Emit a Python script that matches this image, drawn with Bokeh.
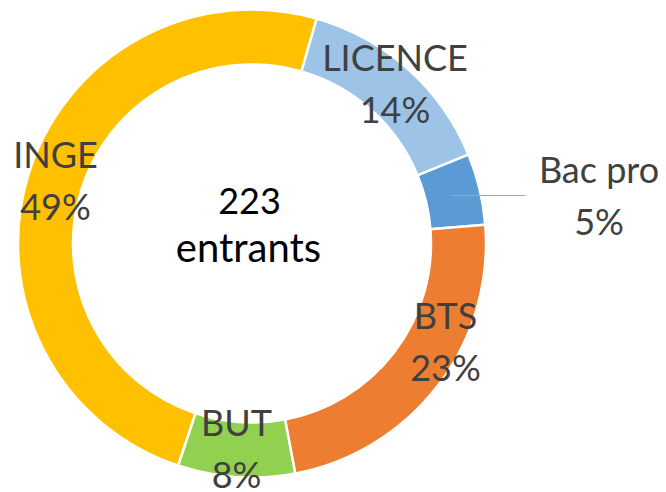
from math import radians
from bokeh.plotting import figure
from bokeh.models import Range1d, ColumnDataSource
from bokeh.core.properties import value
from bokeh.embed import file_html
from bokeh.resources import INLINE

# ---- data ----
categories = ["LICENCE", "Bac pro", "BTS", "BUT", "INGE"]
counts = [32, 11, 52, 18, 110]
colors = ["#9DC3E6", "#5B9BD5", "#ED7D31", "#92D050", "#FFC000"]
center_number = "223"
center_word = "entrants"

total = sum(counts)
percent_labels = [f"{round(100 * c / total)}%" for c in counts]

# ---- layout ----
W, H = 666, 492
TXT_SHIFT = 15  # compensates renderer baseline offset
def dx(sx):
    return sx
def dy(sy):
    return H - sy

cx, cy = dx(251.5), dy(243)
R_OUT, R_IN = 234, 179
first_angle = 16.0  # degrees clockwise from 12 o'clock

starts, ends = [], []
acc = first_angle
for c in counts:
    a0 = acc
    a1 = acc + 360.0 * c / total
    starts.append(radians(90 - a0))
    ends.append(radians(90 - a1))
    acc = a1

src = ColumnDataSource(dict(cat=categories, n=counts, color=colors,
                            start=starts, end=ends,
                            x=[cx] * len(counts), y=[cy] * len(counts)))

p = figure(width=W, height=H, x_range=Range1d(0, W), y_range=Range1d(0, H),
           output_backend="svg", toolbar_location=None, min_border=0,
           background_fill_color="white", border_fill_color="white")
p.outline_line_color = None
p.axis.visible = False
p.grid.visible = False

p.annular_wedge(x="x", y="y", inner_radius=R_IN, outer_radius=R_OUT,
                inner_radius_units="screen", outer_radius_units="screen",
                start_angle="start", end_angle="end", direction="clock",
                fill_color="color", line_color="white", line_width=2.5,
                source=src)

# leader line for Bac pro
p.segment(x0=[dx(451.5)], y0=[dy(195)], x1=[dx(525)], y1=[dy(195)],
          line_color="#A6A6A6", line_width=1.2)

# label positions (screen px: center x, baseline y of name)
label_pos = [(394.5, 71), (598.5, 183.3), (445, 329.3), (236, 436.7), (55, 168.3)]
LINE = 52
lab_src = ColumnDataSource(dict(
    x=[dx(x) for x, _ in label_pos],
    y1=[dy(y - TXT_SHIFT) for _, y in label_pos],
    y2=[dy(y + LINE - TXT_SHIFT) for _, y in label_pos],
    name=categories, pct=percent_labels))

for col, ycol in (("name", "y1"), ("pct", "y2")):
    p.text(x="x", y=ycol, text=col, source=lab_src,
           text_font=value("Lato"), text_font_size="36px",
           text_color="#404040", text_align="center",
           text_baseline="alphabetic")

p.text(x=[dx(249)], y=[dy(215 - TXT_SHIFT)], text=[center_number],
       text_font=value("Lato"), text_font_size="36px", text_color="black",
       text_align="center", text_baseline="alphabetic")
p.text(x=[dx(248)], y=[dy(261.7 - TXT_SHIFT)], text=[center_word],
       text_font=value("Lato"), text_font_size="40px", text_color="black",
       text_align="center", text_baseline="alphabetic")

open("out.html", "w").write(file_html(p, INLINE))
